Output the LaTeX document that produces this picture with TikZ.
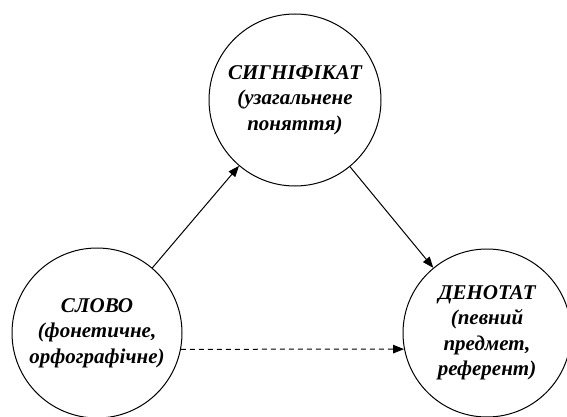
\documentclass[tikz,border=0pt]{standalone}
\usepackage{fontspec}
\setmainfont{Liberation Serif}
\usetikzlibrary{arrows.meta}

\begin{document}
\begin{tikzpicture}[
  x=1pt, y=-1pt,
  term/.style={draw, circle, inner sep=0pt, align=center,
               line width=1pt,
               font=\fontsize{21}{25.5}\selectfont\bfseries\itshape},
  link/.style={line width=1pt, -{Triangle[length=11pt,width=8.5pt]}}
]
\useasboundingbox (0,0) rectangle (567,417);
\node[term, minimum size=172pt] (sygn) at (295,100) {СИГНІФІКАТ\\(узагальнене\\поняття)};
\node[term, minimum size=170pt] (slovo) at (97,333) {СЛОВО\\(фонетичне,\\орфографічне)};
\node[term, minimum size=168pt] (denot) at (487,333) {ДЕНОТАТ\\(певний\\предмет,\\референт)};
\draw[link] (slovo) -- (sygn);
\draw[link] (sygn) -- (denot);
\draw[link, dash pattern=on 5pt off 4pt] (slovo.-11) -- (denot.191);
\end{tikzpicture}
\end{document}
